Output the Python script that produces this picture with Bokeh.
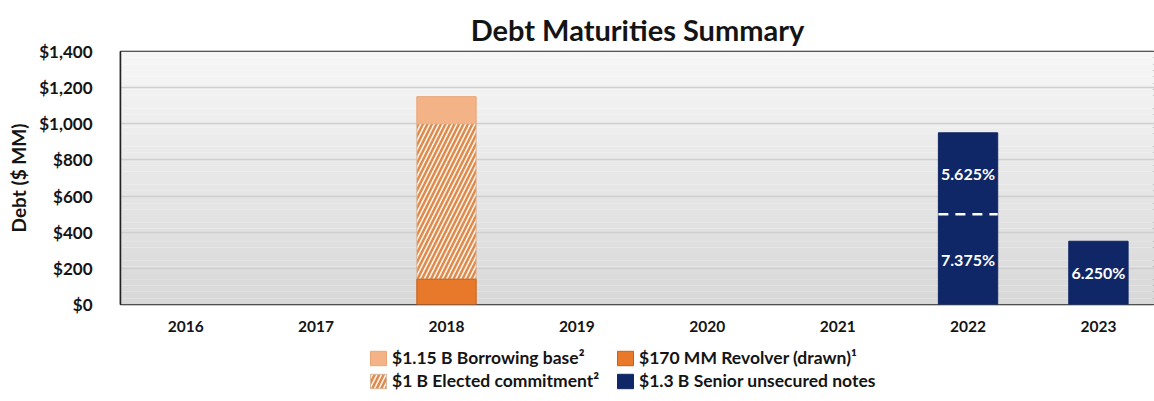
import numpy as np
from bokeh.plotting import figure
from bokeh.layouts import column
from bokeh.models import (Range1d, FixedTicker, Legend, LegendItem, BoxAnnotation,
                          ColumnDataSource, NumeralTickFormatter)
from bokeh.embed import file_html
from bokeh.resources import INLINE
from bokeh.core.properties import value

# ---------------- data ----------------
years = ["2016", "2017", "2018", "2019", "2020", "2021", "2022", "2023"]
revolver_drawn = [0, 0, 140, 0, 0, 0, 0, 0]          # $170 MM Revolver (drawn)
elected_commitment = [0, 0, 1000, 0, 0, 0, 0, 0]     # $1 B Elected commitment (cumulative top)
borrowing_base = [0, 0, 1150, 0, 0, 0, 0, 0]         # $1.15 B Borrowing base (cumulative top)
notes_lower = [0, 0, 0, 0, 0, 0, 500, 350]           # senior notes, lower tranche
notes_upper = [0, 0, 0, 0, 0, 0, 450, 0]             # senior notes, upper tranche
notes_lower_rate = ["", "", "", "", "", "", "7.375%", "6.250%"]
notes_upper_rate = ["", "", "", "", "", "", "5.625%", ""]
y_ticks = [0, 200, 400, 600, 800, 1000, 1200, 1400]
legend_labels = ["$1.15 B Borrowing base\u00b2", "$1 B Elected commitment\u00b2",
                 "$170 MM Revolver (drawn)\u00b9", "$1.3 B Senior unsecured notes"]

FONT = "Lato"
TXT = "#141414"
C_BASE = "#f3b386"
C_REV = "#e8782a"
C_HATCH = "#dd8a4c"
C_NOTES = "#0f2766"
BAR_W = 0.455

x = np.arange(len(years))

p = figure(frame_width=1034, frame_height=253, output_backend="svg", toolbar_location=None,
           x_range=Range1d(-0.5, 7.43), y_range=Range1d(0, 1400),
           min_border_left=120, min_border_right=0, min_border_top=51,
           min_border_bottom=40)

# background gradient bands (light at top, darker at bottom)
nb = 40
edges = np.linspace(0, 1400, nb + 1)
for i in range(nb):
    t = i / (nb - 1)
    g = int(round(0xd8 + (0xf6 - 0xd8) * t))
    col = "#%02x%02x%02x" % (g, g, g)
    p.add_layout(BoxAnnotation(bottom=edges[i], top=edges[i + 1], fill_color=col,
                               fill_alpha=1.0, line_alpha=0, level="image"))

p.title.text = "Debt Maturities Summary"
p.title.align = "center"
p.title.text_font = FONT
p.title.text_font_size = "29px"
p.title.text_font_style = "bold"
p.title.text_color = TXT

p.outline_line_color = "#222222"
p.outline_line_width = 1.5

p.xgrid.grid_line_color = None
p.ygrid.grid_line_color = "#cfcfcf"
p.ygrid.grid_line_width = 1.5
p.ygrid.ticker = FixedTicker(ticks=y_ticks)

p.yaxis.ticker = FixedTicker(ticks=y_ticks)
p.yaxis.formatter = NumeralTickFormatter(format="$0,0")
p.yaxis.axis_label = "Debt ($ MM)"
p.yaxis.axis_label_text_font = FONT
p.yaxis.axis_label_text_font_size = "19px"
p.yaxis.axis_label_text_font_style = "bold"
p.yaxis.axis_label_text_color = TXT
p.yaxis.axis_label_standoff = 6
p.yaxis.major_label_text_font = FONT
p.yaxis.major_label_text_font_size = "17px"
p.yaxis.major_label_text_font_style = "bold"
p.yaxis.major_label_text_color = TXT
p.yaxis.major_label_standoff = 22
p.yaxis.major_tick_line_color = None
p.yaxis.minor_tick_line_color = None
p.yaxis.axis_line_color = "#222222"
p.yaxis.axis_line_width = 1.5

p.xaxis.ticker = FixedTicker(ticks=list(x))
p.xaxis.major_label_overrides = {int(i): y for i, y in zip(x, years)}
p.xaxis.major_label_text_font = FONT
p.xaxis.major_label_text_font_size = "15.5px"
p.xaxis.major_label_text_font_style = "bold"
p.xaxis.major_label_text_color = TXT
p.xaxis.major_label_standoff = 10
p.xaxis.major_tick_line_color = None
p.xaxis.minor_tick_line_color = None
p.xaxis.axis_line_color = None

# ---------------- bars ----------------
def nz(vals):
    return [i for i, v in enumerate(vals) if v > 0]

base_style = dict(fill_color=C_BASE, line_color="#e9a576", line_width=1)
el_style = dict(fill_color="#fdf3ea", line_color="#d9b79b", line_width=1,
                hatch_pattern="/", hatch_color=C_HATCH, hatch_scale=9, hatch_weight=2.5)
rev_style = dict(fill_color=C_REV, line_color="#c85f16", line_width=1)
notes_style = dict(fill_color=C_NOTES, line_color=C_NOTES, line_width=1)

idx = nz(borrowing_base)
src_base = ColumnDataSource(dict(x=[x[i] for i in idx],
                                 bottom=[elected_commitment[i] for i in idx],
                                 top=[borrowing_base[i] for i in idx]))
p.vbar(x="x", bottom="bottom", top="top", width=BAR_W, source=src_base, **base_style)

idx = nz(elected_commitment)
src_el = ColumnDataSource(dict(x=[x[i] for i in idx],
                               bottom=[revolver_drawn[i] for i in idx],
                               top=[elected_commitment[i] for i in idx]))
p.vbar(x="x", bottom="bottom", top="top", width=BAR_W, source=src_el, **el_style)

idx = nz(revolver_drawn)
src_rev = ColumnDataSource(dict(x=[x[i] for i in idx], bottom=[0] * len(idx),
                                top=[revolver_drawn[i] for i in idx]))
p.vbar(x="x", bottom="bottom", top="top", width=BAR_W, source=src_rev, **rev_style)

# senior notes (two tranches stacked)
nx, nb_, nt, labs, labs_y = [], [], [], [], []
for i in range(len(years)):
    if notes_lower[i] > 0:
        nx.append(x[i]); nb_.append(0); nt.append(notes_lower[i])
        labs.append(notes_lower_rate[i]); labs_y.append(notes_lower[i] / 2)
    if notes_upper[i] > 0:
        nx.append(x[i]); nb_.append(notes_lower[i]); nt.append(notes_lower[i] + notes_upper[i])
        labs.append(notes_upper_rate[i]); labs_y.append(notes_lower[i] + notes_upper[i] / 2)
src_notes = ColumnDataSource(dict(x=nx, bottom=nb_, top=nt))
p.vbar(x="x", bottom="bottom", top="top", width=BAR_W, source=src_notes, **notes_style)

# dashed separator between tranches
sx0, sx1, sy = [], [], []
for i in range(len(years)):
    if notes_lower[i] > 0 and notes_upper[i] > 0:
        sx0.append(x[i] - BAR_W / 2); sx1.append(x[i] + BAR_W / 2); sy.append(notes_lower[i])
p.segment(x0=sx0, x1=sx1, y0=sy, y1=sy, line_color="white", line_width=2.5,
          line_dash="10 7")

p.text(x=nx, y=labs_y, text=labs, text_color="white", text_font=value(FONT),
       text_font_size="16px", text_font_style="bold", text_align="center",
       text_baseline="middle")

# ---------------- legend (separate strip below the chart) ----------------
leg = figure(width=1154, height=52, output_backend="svg", toolbar_location=None,
             x_range=Range1d(0, 1), y_range=Range1d(0, 1),
             min_border_left=120, min_border_right=0, min_border_top=0, min_border_bottom=0)
leg.axis.visible = False
leg.grid.visible = False
leg.outline_line_color = None
swatches = []
for style in (base_style, el_style, rev_style, notes_style):
    # swatch-only renderers with a degenerate (zero-size) box
    swatches.append(leg.vbar(x=[0.5], bottom=[0.5], top=[0.5], width=0, **style))

legend = Legend(items=[LegendItem(label=l, renderers=[r])
                       for l, r in zip(legend_labels, swatches)],
                ncols=2, location=(248, 5))
legend.label_text_font = FONT
legend.label_text_font_size = "17.5px"
legend.label_text_font_style = "bold"
legend.label_text_color = TXT
legend.border_line_color = None
legend.background_fill_alpha = 0
legend.glyph_width = 20
legend.glyph_height = 18
legend.label_standoff = 4
legend.spacing = 2
legend.padding = 2
legend.margin = 0
legend.label_height = 18
legend.label_width = 221
leg.add_layout(legend, "center")

open("out.html", "w").write(file_html(column(p, leg), INLINE))
